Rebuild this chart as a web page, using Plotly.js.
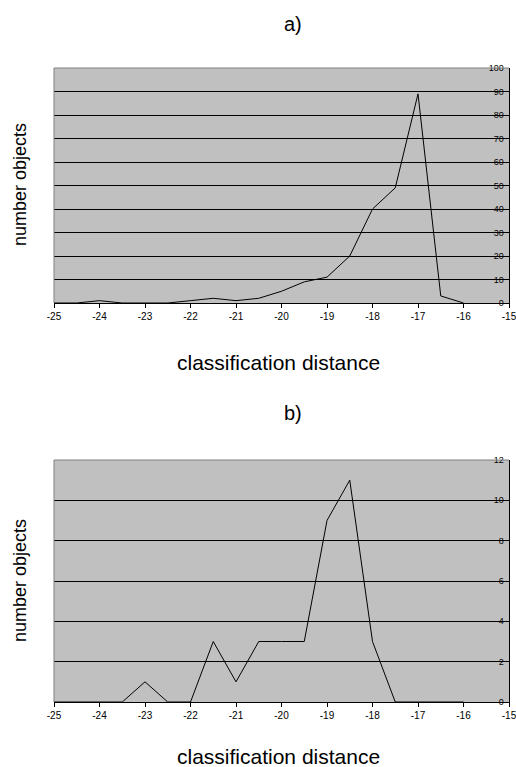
<!DOCTYPE html>
<html>
<head>
<meta charset="utf-8">
<script src="https://cdn.plot.ly/plotly-3.0.1.min.js"></script>
<style>html,body{margin:0;padding:0;background:#fff;}#chart{width:516px;height:767px;}</style>
</head>
<body>
<div id="chart"></div>
<script>
// Panel a)
var distA = [-25, -24.5, -24, -23.5, -23, -22.5, -22, -21.5, -21, -20.5, -20, -19.5, -19, -18.5, -18, -17.5, -17, -16.5, -16];
var countA = [0, 0, 1, 0, 0, 0, 1, 2, 1, 2, 5, 9, 11, 20, 40, 49, 89, 3, 0];
// Panel b)
var distB = [-25, -24.5, -24, -23.5, -23, -22.5, -22, -21.5, -21, -20.5, -20, -19.5, -19, -18.5, -18, -17.5, -17, -16.5, -16];
var countB = [0, 0, 0, 0, 1, 0, 0, 3, 1, 3, 3, 3, 9, 11, 3, 0, 0, 0, 0];

var xTicks = [-25, -24, -23, -22, -21, -20, -19, -18, -17, -16, -15];
var panelTitles = ["a)", "b)"];
var xTitle = "classification distance";
var yTitle = "number objects";

var FONT = "Liberation Sans, Arial, sans-serif";

var traces = [
  {x: distA, y: countA, type: "scatter", mode: "lines", line: {color: "#000", width: 1}, xaxis: "x", yaxis: "y", hoverinfo: "skip"},
  {x: distB, y: countB, type: "scatter", mode: "lines", line: {color: "#000", width: 1}, xaxis: "x2", yaxis: "y2", hoverinfo: "skip"}
];

function xax(anchor) {
  return {
    domain: [54/516, 509/516], anchor: anchor, range: [-25, -15],
    tickvals: xTicks, ticktext: xTicks.map(String),
    ticks: "outside", ticklen: 4, tickcolor: "#000", tickwidth: 1,
    ticklabeloverflow: "allow",
    showline: true, linecolor: "#000", linewidth: 1,
    showgrid: false, zeroline: false,
    tickfont: {family: FONT, size: 10, color: "#000"}, fixedrange: true
  };
}
function yax(anchor, dom, max, dt) {
  return {
    domain: dom, anchor: anchor, range: [0, max], dtick: dt, tick0: 0,
    side: "right", ticks: "inside", ticklen: 4, tickcolor: "#000",
    ticklabelposition: "inside", ticklabeloverflow: "allow",
    showline: true, linecolor: "#000", linewidth: 1,
    showgrid: true, gridcolor: "#000", gridwidth: 1, zeroline: false,
    tickfont: {family: FONT, size: 9, color: "#000"}, fixedrange: true
  };
}

var H = 767;
var domA = [(H - 303) / H, (H - 68) / H];
var domB = [(H - 702) / H, (H - 460) / H];

var layout = {
  width: 516, height: 767,
  margin: {l: 0, r: 0, t: 0, b: 0},
  paper_bgcolor: "#fff", plot_bgcolor: "#c0c0c0",
  showlegend: false,
  font: {family: FONT, color: "#000"},
  xaxis: xax("y"), yaxis: yax("x", domA, 100, 10),
  xaxis2: xax("y2"), yaxis2: yax("x2", domB, 12, 2),
  shapes: [
    {type: "line", xref: "x domain", yref: "y domain", x0: 0, x1: 1, y0: 1, y1: 1, line: {color: "#808080", width: 1}},
    {type: "line", xref: "x domain", yref: "y domain", x0: 0, x1: 0, y0: 0, y1: 1, line: {color: "#808080", width: 1}},
    {type: "line", xref: "x2 domain", yref: "y2 domain", x0: 0, x1: 1, y0: 1, y1: 1, line: {color: "#808080", width: 1}},
    {type: "line", xref: "x2 domain", yref: "y2 domain", x0: 0, x1: 0, y0: 0, y1: 1, line: {color: "#808080", width: 1}}
  ],
  annotations: [
    {text: panelTitles[0], xref: "paper", yref: "paper", x: 293/516, y: 1 - 24/H, xanchor: "center", yanchor: "middle", showarrow: false, font: {family: FONT, size: 20}},
    {text: panelTitles[1], xref: "paper", yref: "paper", x: 293/516, y: 1 - 413/H, xanchor: "center", yanchor: "middle", showarrow: false, font: {family: FONT, size: 20}},
    {text: xTitle, xref: "paper", yref: "paper", x: 278/516, y: 1 - 362/H, xanchor: "center", yanchor: "middle", showarrow: false, font: {family: FONT, size: 21}},
    {text: xTitle, xref: "paper", yref: "paper", x: 278/516, y: 1 - 756/H, xanchor: "center", yanchor: "middle", showarrow: false, font: {family: FONT, size: 21}},
    {text: yTitle, xref: "paper", yref: "paper", x: 20/516, y: 1 - 185/H, xanchor: "center", yanchor: "middle", textangle: -90, showarrow: false, font: {family: FONT, size: 18}},
    {text: yTitle, xref: "paper", yref: "paper", x: 20/516, y: 1 - 581/H, xanchor: "center", yanchor: "middle", textangle: -90, showarrow: false, font: {family: FONT, size: 18}}
  ]
};

Plotly.newPlot("chart", traces, layout, {staticPlot: true, displayModeBar: false});
</script>
</body>
</html>
